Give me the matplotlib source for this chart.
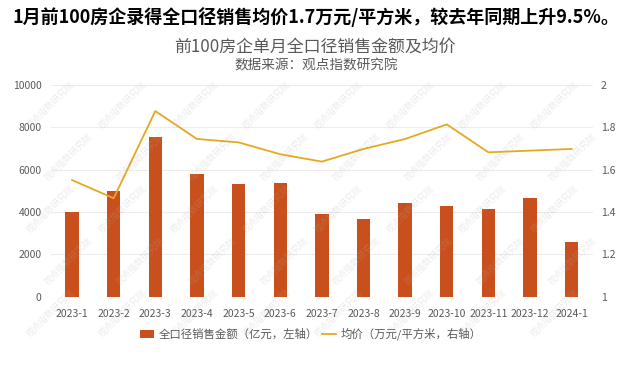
import matplotlib
matplotlib.use("Agg")
import matplotlib.pyplot as plt
import numpy as np

plt.rcParams['font.family'] = ['Noto Sans CJK SC', 'DejaVu Sans']

months = ["2023-1", "2023-2", "2023-3", "2023-4", "2023-5", "2023-6", "2023-7",
          "2023-8", "2023-9", "2023-10", "2023-11", "2023-12", "2024-1"]
sales = [3990, 4990, 7530, 5810, 5320, 5360, 3910, 3690, 4410, 4280, 4140, 4680, 2600]
price = [1.551, 1.465, 1.877, 1.745, 1.729, 1.673, 1.638, 1.698, 1.745, 1.814, 1.682, 1.690, 1.698]
left_ticks = [0, 2000, 4000, 6000, 8000, 10000]
right_ticks = [1, 1.2, 1.4, 1.6, 1.8, 2]
right_labels = ["1", "1.2", "1.4", "1.6", "1.8", "2"]

title = "1月前100房企录得全口径销售均价1.7万元/平方米，较去年同期上升9.5%。"
subtitle = "前100房企单月全口径销售金额及均价"
source = "数据来源：观点指数研究院"
bar_label = "全口径销售金额（亿元，左轴）"
line_label = "均价（万元/平方米，右轴）"

BAR = "#C9501C"
LINE = "#E6A820"
GRAY = "#595959"

W, H = 643, 372
fig = plt.figure(figsize=(W / 100, H / 100), dpi=100)
fig.patch.set_facecolor("white")

ax = fig.add_axes([51.2 / W, 1 - 296.7 / H, (592.5 - 51.2) / W, (296.7 - 85) / H])
x = np.arange(len(months))
bars = ax.bar(x, sales, width=0.32, color=BAR, zorder=2, label=bar_label)
ax.set_xlim(-0.5, len(months) - 0.5)
ax.set_ylim(0, 10000)
ax.set_yticks(left_ticks)
ax.set_xticks(x)
ax.set_xticklabels(months)
for s in ax.spines.values():
    s.set_visible(False)
ax.grid(axis="y", color="#EDEDED", linewidth=0.8, zorder=0)
ax.tick_params(axis="both", length=0, labelsize=7.5, labelcolor=GRAY)
ax.tick_params(axis="x", pad=9)
ax.tick_params(axis="y", pad=7)

ax2 = ax.twinx()
line, = ax2.plot(x, price, color=LINE, linewidth=1.3, zorder=3, label=line_label)
ax2.set_ylim(1, 2)
ax2.set_yticks(right_ticks)
ax2.set_yticklabels(right_labels)
for s in ax2.spines.values():
    s.set_visible(False)
ax2.tick_params(axis="y", length=0, labelsize=7.5, labelcolor=GRAY, pad=6)

fig.text(12 / W, 1 - 17 / H, title, fontsize=13, fontweight="bold", color="black",
         ha="left", va="center")
fig.text(314.5 / W, 1 - 46.5 / H, subtitle, fontsize=12.2, color=GRAY, ha="center", va="center")
fig.text(316 / W, 1 - 65 / H, source, fontsize=9.8, color=GRAY, ha="center", va="center")

leg = fig.legend([bars, line], [bar_label, line_label], loc="center",
                 bbox_to_anchor=(311 / W, 1 - 334 / H), ncol=2, frameon=False,
                 fontsize=8.2, handlelength=1.2, handleheight=0.7, handletextpad=0.4,
                 columnspacing=0.4, labelcolor=GRAY)

# faint watermark
for j, yy in enumerate(np.arange(105, 330, 52)):
    off = 18 if j % 2 else 0
    for xx in np.arange(50, 600, 72):
        fig.text((xx + off) / W, 1 - yy / H, "观点指数研究院", fontsize=6.5, rotation=45,
                 color="#B0B0B0", alpha=0.25, ha="center", va="center", zorder=10)

fig.savefig("out.png", dpi=100)
